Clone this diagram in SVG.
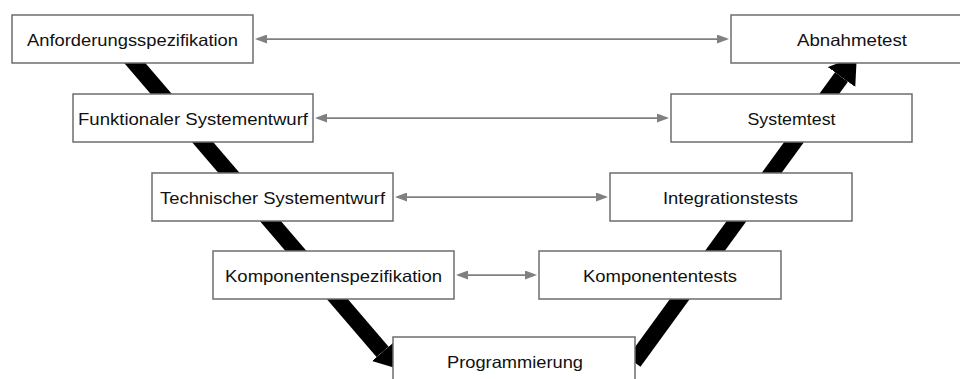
<svg xmlns="http://www.w3.org/2000/svg" width="960" height="379" viewBox="0 0 960 379">
  <style>
    .box { fill: #ffffff; stroke: #6d6d6d; stroke-width: 1.5; }
    .lbl { font-family: "Liberation Sans", Arial, sans-serif; font-size: 16.5px; fill: #111111; text-anchor: middle; }
    .link { stroke: #808080; stroke-width: 1.75; fill: none; marker-start: url(#grayHead); marker-end: url(#grayHead); }
    .flow { stroke: #000000; stroke-width: 16; fill: none; stroke-linecap: butt; }
  </style>
  <defs>
    <marker id="grayHead" markerUnits="userSpaceOnUse" viewBox="0 0 12 9" markerWidth="12" markerHeight="9" refX="10" refY="4.5" orient="auto-start-reverse">
      <path d="M0,0 L12,4.5 L0,9 z" fill="#808080"/>
    </marker>
    <marker id="downHead" markerUnits="userSpaceOnUse" viewBox="0 -14 22 28" markerWidth="22" markerHeight="28" refX="0" refY="0" orient="auto">
      <path d="M0,-14 L22,0 L0,14 z" fill="#000000"/>
    </marker>
    <marker id="upHead" markerUnits="userSpaceOnUse" viewBox="0 -17 26 34" markerWidth="26" markerHeight="34" refX="0" refY="0" orient="auto">
      <path d="M0,-17 L26,0 L0,17 z" fill="#000000"/>
    </marker>
  </defs>

  <!-- V-shaped flow and horizontal verification links -->
  <g id="connectors">
    <path class="flow" d="M115,40 L382.6,351.9" marker-end="url(#downHead)"/>
    <path class="flow" d="M634,362 L841.5,77" marker-end="url(#upHead)"/>
    <line class="link" x1="257" y1="39" x2="727" y2="39"/>
    <line class="link" x1="317" y1="118" x2="667" y2="118"/>
    <line class="link" x1="397" y1="197" x2="606" y2="197"/>
    <line class="link" x1="458" y1="275" x2="535" y2="275"/>
  </g>

  <g id="anforderungsspezifikation">
    <rect class="box" x="12" y="15" width="241" height="48"/>
    <text class="lbl" x="132.5" y="46" textLength="211" lengthAdjust="spacingAndGlyphs">Anforderungsspezifikation</text>
  </g>
  <g id="funktionaler-systementwurf">
    <rect class="box" x="73" y="94" width="240" height="48"/>
    <text class="lbl" x="193" y="125" textLength="230" lengthAdjust="spacingAndGlyphs">Funktionaler Systementwurf</text>
  </g>
  <g id="technischer-systementwurf">
    <rect class="box" x="152" y="173" width="241" height="48"/>
    <text class="lbl" x="272.5" y="204" textLength="225" lengthAdjust="spacingAndGlyphs">Technischer Systementwurf</text>
  </g>
  <g id="komponentenspezifikation">
    <rect class="box" x="213" y="251" width="241" height="48"/>
    <text class="lbl" x="333.5" y="282" textLength="217" lengthAdjust="spacingAndGlyphs">Komponentenspezifikation</text>
  </g>
  <g id="programmierung">
    <rect class="box" x="393" y="337" width="242" height="48"/>
    <text class="lbl" x="515" y="368" textLength="136" lengthAdjust="spacingAndGlyphs">Programmierung</text>
  </g>
  <g id="komponententests">
    <rect class="box" x="539" y="251" width="242" height="48"/>
    <text class="lbl" x="660" y="282" textLength="154" lengthAdjust="spacingAndGlyphs">Komponententests</text>
  </g>
  <g id="integrationstests">
    <rect class="box" x="610" y="173" width="242" height="48"/>
    <text class="lbl" x="730.5" y="204" textLength="135" lengthAdjust="spacingAndGlyphs">Integrationstests</text>
  </g>
  <g id="systemtest">
    <rect class="box" x="671" y="94" width="241" height="48"/>
    <text class="lbl" x="791.5" y="125" textLength="88" lengthAdjust="spacingAndGlyphs">Systemtest</text>
  </g>
  <g id="abnahmetest">
    <rect class="box" x="731" y="15" width="242" height="48"/>
    <text class="lbl" x="852" y="46" textLength="110" lengthAdjust="spacingAndGlyphs">Abnahmetest</text>
  </g>
</svg>
